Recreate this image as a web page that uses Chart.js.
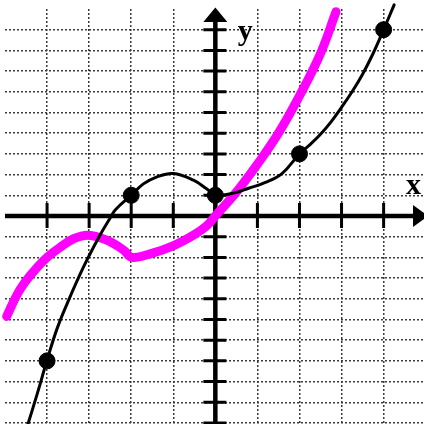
<!DOCTYPE html>
<html>
<head>
<meta charset="utf-8">
<script src="https://cdn.jsdelivr.net/npm/chart.js@4.4.1/dist/chart.umd.min.js"></script>
<style>
  html, body { margin: 0; padding: 0; background: #fff; }
  canvas { display: block; }
</style>
</head>
<body>
<canvas id="graphChart" width="424" height="424"></canvas>
<script>
// black curve
const blackX = [-4.5, -4.22, -4.0, -3.76, -3.52, -3.13, -2.74, -2.5, -2.38, -2.0, -1.71, -1.4, -1.0, -0.52, -0.2, 0.0, 0.48, 0.79, 1.19, 1.59, 2.0, 2.25, 2.5, 2.75, 3.0, 3.25, 3.5, 3.75, 4.0, 4.25];
const blackY = [-10.35, -8.5, -6.96, -5.43, -4.22, -2.45, -0.92, -0.1, 0.29, 1.0, 1.55, 1.88, 2.05, 1.73, 1.3, 1.0, 1.13, 1.34, 1.62, 2.06, 3.0, 3.45, 3.95, 4.55, 5.25, 6.0, 6.85, 7.85, 9.0, 10.2];

// the dots on the black curve
const pointX = [-4, -2, 0, 2, 4];
const pointY = [-7, 1, 1, 3, 9];

// magenta curve
const magentaX = [-4.96, -4.7, -4.47, -4.24, -4.0, -3.68, -3.37, -3.02, -2.58, -2.18, -1.98, -1.55, -0.99, -0.52, -0.2, 0.0, 0.5, 1.0, 1.5, 2.0, 2.5, 2.87];
const magentaY = [-4.85, -3.75, -3.05, -2.5, -2.0, -1.5, -1.1, -0.93, -1.17, -1.65, -2.0, -1.83, -1.43, -0.93, -0.47, 0.0, 1.15, 2.5, 4.0, 5.8, 7.85, 9.87];

// axis ticks and labels
const xTicks = [-4, -3, -2, -1, 1, 2, 3, 4];
const yTicks = [-10, -9, -8, -7, -6, -5, -4, -3, -2, -1, 1, 2, 3, 4, 5, 6, 7, 8, 9];
const axisLabels = ["x", "y"];

const toXY = (xs, ys) => xs.map((x, i) => ({ x: x, y: ys[i] }));

/* ====== axes with arrows, drawn over the grid ====== */
const axesPlugin = {
    id: "axesPlugin",
    beforeDatasetsDraw(chart) {
        const { ctx, chartArea, scales } = chart;
        const x0 = scales.x.getPixelForValue(0);
        const y0 = scales.y.getPixelForValue(0);
        ctx.save();
        ctx.strokeStyle = "#000";
        ctx.fillStyle = "#000";

        // main lines
        ctx.lineWidth = 4.5;
        ctx.beginPath();
        ctx.moveTo(chartArea.left, y0);
        ctx.lineTo(chartArea.right - 10, y0);
        ctx.moveTo(x0, chartArea.bottom);
        ctx.lineTo(x0, chartArea.top + 12);
        ctx.stroke();

        // tick marks
        ctx.lineWidth = 3;
        ctx.beginPath();
        xTicks.forEach(v => {
            const px = scales.x.getPixelForValue(v);
            ctx.moveTo(px, y0 - 13);
            ctx.lineTo(px, y0 + 12);
        });
        yTicks.forEach(v => {
            const py = scales.y.getPixelForValue(v);
            ctx.moveTo(x0 - 12, py);
            ctx.lineTo(x0 + 11, py);
        });
        ctx.stroke();

        // arrow heads
        ctx.beginPath();
        ctx.moveTo(x0, chartArea.top - 1.5);
        ctx.lineTo(x0 - 12, chartArea.top + 13);
        ctx.lineTo(x0 + 12, chartArea.top + 13);
        ctx.closePath();
        ctx.fill();
        ctx.beginPath();
        ctx.moveTo(chartArea.right + 4, y0);
        ctx.lineTo(chartArea.right - 11, y0 - 11);
        ctx.lineTo(chartArea.right - 11, y0 + 11);
        ctx.closePath();
        ctx.fill();
        ctx.restore();
    },
    afterDraw(chart) {
        const { ctx, scales } = chart;
        ctx.save();
        ctx.fillStyle = "#000";
        ctx.font = 'bold 30px "Liberation Serif", "DejaVu Serif", serif';
        ctx.textBaseline = "alphabetic";
        ctx.fillText(axisLabels[0], scales.x.getPixelForValue(4.53), scales.y.getPixelForValue(1.06));
        ctx.fillText(axisLabels[1], scales.x.getPixelForValue(0.53), scales.y.getPixelForValue(8.5));
        ctx.restore();
    }
};

const gridStyle = hidden => ({
    color: c => hidden.includes(c.tick && c.tick.value) ? "rgba(0,0,0,0)" : "#3a3a3a",
    lineWidth: 1.5,
    drawTicks: false
});

// the scales take no room, so the plot fills the canvas
const noRoom = s => {
    if (s.isHorizontal()) s.height = 0; else s.width = 0;
};

new Chart(document.getElementById("graphChart").getContext("2d"), {
    type: "scatter",
    data: {
        datasets: [
            {
                data: toXY(pointX, pointY),
                showLine: false,
                pointRadius: 8,
                pointBackgroundColor: "#000",
                pointBorderColor: "#000",
                clip: false
            },
            {
                data: toXY(blackX, blackY),
                showLine: true,
                borderColor: "#000",
                borderWidth: 3,
                pointRadius: 0,
                tension: 0.4,
                borderCapStyle: "round",
                borderJoinStyle: "round",
                clip: false
            },
            {
                data: toXY(magentaX, magentaY),
                showLine: true,
                borderColor: "#ff00ff",
                borderWidth: 9,
                pointRadius: 0,
                tension: 0.4,
                borderCapStyle: "round",
                borderJoinStyle: "round",
                clip: false
            }
        ]
    },
    options: {
        responsive: false,
        animation: false,
        devicePixelRatio: 1,
        layout: { autoPadding: false, padding: { left: 5, top: 9, right: 0, bottom: 0 } },
        plugins: { legend: { display: false }, tooltip: { enabled: false } },
        scales: {
            x: {
                type: "linear",
                min: -5,
                max: 4.96,
                afterFit: noRoom,
                ticks: { display: false, stepSize: 1, includeBounds: false },
                border: { display: false, dash: [2, 2] },
                grid: gridStyle([-5, 0])
            },
            y: {
                type: "linear",
                min: -10.05,
                max: 10,
                afterFit: noRoom,
                ticks: { display: false, stepSize: 1, includeBounds: false },
                border: { display: false, dash: [2, 2] },
                grid: gridStyle([0, 10])
            }
        }
    },
    plugins: [axesPlugin]
});
</script>
</body>
</html>
